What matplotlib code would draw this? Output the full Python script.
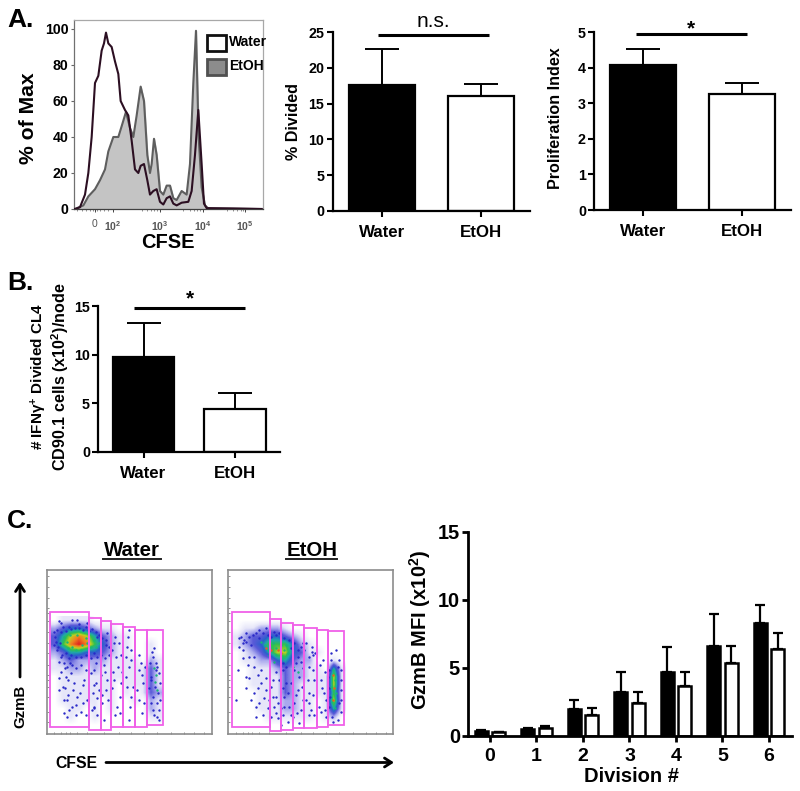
import numpy as np
import matplotlib
matplotlib.use('Agg')
import matplotlib.pyplot as plt
from matplotlib.colors import LinearSegmentedColormap
from matplotlib.patches import Rectangle

plt.rcParams['font.family'] = ['Liberation Sans', 'DejaVu Sans']
plt.rcParams['font.weight'] = 'bold'
plt.rcParams['mathtext.fontset'] = 'custom'
plt.rcParams['mathtext.rm'] = 'Liberation Sans:bold'
plt.rcParams['mathtext.sf'] = 'Liberation Sans'
plt.rcParams['mathtext.default'] = 'rm'

W, H = 800, 791

# histogram, x in CFSE display channels
water_x = [222, 225, 240, 255, 265, 275, 285, 295, 305, 312, 318, 325, 335, 345, 355, 362, 375, 385, 395, 405,
           415, 422, 432, 442, 450, 460, 470, 480, 490, 500, 510, 520, 530, 545, 565, 575, 585, 595, 605, 612,
           620, 700, 785]
water_y = [0, 0, 1, 8, 20, 40, 70, 74, 88, 92, 98, 92, 90, 82, 75, 60, 55, 52, 38, 22,
           20, 24, 25, 16, 8, 10, 11, 4, 2.5, 6, 7, 3, 2, 3.5, 4, 10, 30, 55, 25, 3,
           0.5, 0.3, 0]
etoh_x = [222, 225, 250, 265, 285, 300, 315, 325, 340, 355, 365, 378, 390, 400, 410, 422, 432, 442, 450, 455,
          462, 470, 480, 490, 500, 510, 520, 530, 545, 560, 570, 580, 588, 596, 605, 615, 625, 785]
etoh_y = [0, 0, 2, 7, 11, 16, 22, 32, 40, 40, 46, 54, 45, 40, 52, 68, 60, 30, 20, 25,
          39, 30, 10, 8, 13, 13, 6, 5, 10, 8, 25, 70, 99, 40, 12, 2, 0.3, 0]
hist_yticks = [0, 20, 40, 60, 80, 100]
hist_xticks = [285, 339, 480, 608, 735]
hist_xlabels = ['0', r'$\mathsf{10^{2}}$', r'$\mathsf{10^{3}}$', r'$\mathsf{10^{4}}$', r'$\mathsf{10^{5}}$']
hist_xminor = [232, 245, 258, 270, 278, 292, 300, 312, 325, 425, 440, 452, 462, 470, 550, 570, 582, 592, 600,
               680, 700, 712, 722, 730]

groups = ['Water', 'EtOH']
divided = [17.6, 16.0]
divided_top = [22.6, 17.7]
prolif = [4.07, 3.27]
prolif_top = [4.52, 3.57]
ifng = [9.7, 4.35]
ifng_top = [13.3, 6.05]

divisions = [0, 1, 2, 3, 4, 5, 6]
gzmb_water = [0.35, 0.5, 1.95, 3.25, 4.7, 6.6, 8.3]
gzmb_water_top = [0.4, 0.6, 2.6, 4.65, 6.5, 8.95, 9.6]
gzmb_etoh = [0.25, 0.55, 1.5, 2.4, 3.65, 5.35, 6.4]
gzmb_etoh_top = [0.3, 0.75, 2.05, 3.2, 4.7, 6.6, 7.55]

# flow plots: gates and a coarse density
water_gate_x = [(17, 134), (134, 170), (170, 202), (202, 238), (238, 274), (274, 308), (308, 356)]
water_gate_y = [(37, 382), (55, 390), (64, 390), (71, 382), (82, 382), (91, 380), (91, 376)]
etoh_gate_x = [(17, 132), (132, 165), (165, 200), (200, 235), (235, 272), (272, 305), (305, 353)]
etoh_gate_y = [(37, 382), (58, 392), (68, 390), (74, 385), (84, 385), (91, 381), (94, 376)]

density_water = [
    [0, 1, 1, 1, 1, 0, 0, 0, 0, 0, 0, 0, 0, 0],
    [2, 3, 4, 4, 3, 2, 1, 1, 0, 0, 0, 0, 0, 0],
    [3, 5, 7, 8, 7, 5, 3, 2, 1, 1, 0, 0, 0, 0],
    [3, 6, 8, 9, 8, 6, 4, 2, 1, 1, 0, 0, 1, 0],
    [2, 3, 5, 5, 4, 4, 3, 2, 1, 1, 0, 0, 1, 0],
    [1, 2, 3, 2, 2, 2, 2, 1, 1, 1, 1, 0, 2, 1],
    [1, 1, 2, 2, 1, 2, 1, 1, 1, 1, 1, 1, 3, 1],
    [0, 1, 1, 1, 1, 1, 1, 1, 1, 1, 1, 1, 3, 1],
    [0, 1, 1, 1, 1, 1, 1, 1, 0, 1, 1, 1, 3, 1],
    [0, 1, 1, 1, 1, 1, 1, 1, 0, 1, 0, 1, 3, 2],
    [0, 1, 1, 1, 1, 1, 0, 1, 0, 0, 1, 0, 2, 1],
    [0, 0, 1, 1, 0, 1, 0, 1, 0, 0, 0, 0, 2, 1],
    [0, 0, 1, 0, 0, 1, 0, 0, 0, 0, 0, 0, 1, 1],
    [0, 0, 0, 0, 0, 0, 0, 0, 0, 0, 0, 0, 0, 0],
]
density_etoh = [
    [0, 0, 0, 0, 0, 0, 0, 0, 0, 0, 0, 0, 0, 0],
    [0, 1, 1, 2, 2, 2, 1, 0, 0, 0, 0, 0, 0, 0],
    [1, 2, 3, 3, 4, 4, 3, 2, 1, 0, 0, 0, 0, 0],
    [1, 2, 3, 4, 6, 6, 6, 4, 2, 1, 0, 0, 0, 0],
    [0, 1, 2, 3, 5, 7, 7, 4, 3, 1, 1, 0, 0, 0],
    [0, 1, 1, 2, 2, 4, 5, 3, 2, 2, 0, 0, 1, 0],
    [0, 0, 1, 1, 1, 2, 3, 2, 2, 1, 1, 0, 5, 1],
    [0, 0, 1, 1, 1, 1, 3, 2, 2, 1, 1, 1, 7, 1],
    [0, 0, 1, 1, 1, 1, 3, 2, 1, 1, 1, 1, 7, 1],
    [0, 0, 0, 1, 1, 1, 3, 2, 1, 1, 1, 1, 6, 1],
    [0, 0, 0, 1, 1, 1, 2, 2, 1, 1, 0, 1, 7, 1],
    [0, 0, 0, 1, 1, 1, 2, 2, 1, 1, 0, 1, 5, 1],
    [0, 0, 0, 0, 1, 1, 1, 1, 1, 1, 0, 1, 2, 0],
    [0, 0, 0, 0, 0, 0, 0, 0, 0, 0, 0, 0, 0, 0],
]
dots_water = [(45, 62), (52, 70), (40, 150), (60, 190), (33, 110), (100, 60), (104, 72), (75, 175), (70, 200),
              (85, 195), (50, 215), (65, 230), (90, 250), (120, 240), (44, 235), (56, 260), (72, 285), (88, 270),
              (108, 280), (130, 300), (60, 300), (75, 330), (95, 315), (110, 335), (125, 345), (70, 350), (85, 320),
              (100, 290), (70, 300), (118, 255), (62, 265), (72, 240), (80, 220), (150, 210), (155, 250), (160, 295),
              (145, 330), (150, 320), (180, 195), (186, 270), (175, 310), (190, 240), (215, 170), (222, 200),
              (210, 240), (228, 290), (218, 320), (255, 90), (250, 140), (262, 180), (245, 230), (268, 260),
              (258, 320), (290, 190), (285, 210), (296, 250), (280, 270), (300, 310), (330, 145), (326, 170),
              (335, 190), (340, 200), (322, 230), (333, 260), (328, 290), (338, 310), (345, 330), (330, 345),
              (342, 280), (320, 240), (336, 210), (344, 360), (150, 325), (180, 360), (185, 120), (210, 130),
              (160, 110), (190, 100), (40, 90), (48, 128), (30, 135), (55, 165), (130, 70), (85, 60),
              (30, 95), (36, 125), (42, 140), (50, 95), (58, 82), (66, 92), (74, 80), (82, 88), (92, 84), (104, 85),
              (116, 90), (126, 82), (136, 92), (144, 86), (155, 95), (165, 105), (175, 115), (185, 135), (195, 140),
              (150, 160), (160, 170), (170, 165), (140, 175), (125, 165), (110, 172), (95, 170), (80, 165), (65, 160),
              (50, 170), (45, 185), (62, 205), (78, 190), (95, 205), (110, 195), (125, 210), (140, 220), (155, 190),
              (170, 225), (182, 175), (195, 165), (205, 150), (212, 110), (225, 130), (232, 165), (208, 215),
              (235, 215), (205, 265), (232, 250), (212, 345), (228, 340), (252, 110), (262, 150), (245, 170),
              (256, 200), (248, 260), (262, 290), (255, 360), (285, 165), (295, 225), (302, 200), (285, 300),
              (295, 340), (325, 155), (318, 190), (345, 220), (348, 250), (316, 265), (347, 300), (320, 310),
              (340, 350), (328, 330), (150, 255), (148, 280), (160, 345), (165, 270), (175, 285), (182, 215),
              (192, 300), (60, 340), (45, 270), (95, 345), (118, 310)]
green_water = [(60, 110), (70, 125), (78, 105), (85, 140), (100, 105), (115, 135), (125, 115), (130, 130), (140, 140),
               (150, 120), (155, 140), (165, 130), (72, 145), (95, 150), (110, 150), (330, 205), (335, 225),
               (332, 245), (338, 270)]
dots_etoh = [(45, 110), (55, 120), (35, 210), (40, 115), (60, 100), (80, 105), (100, 90), (120, 85), (145, 95),
             (50, 150), (70, 170), (85, 200), (95, 225), (60, 230), (105, 250), (120, 270), (85, 280), (100, 310),
             (125, 325), (75, 300), (110, 345), (90, 350), (30, 300), (60, 265), (140, 240), (150, 290), (145, 320),
             (155, 355), (135, 350), (170, 210), (180, 250), (175, 290), (190, 320), (170, 345), (185, 365),
             (165, 375), (210, 190), (220, 230), (215, 270), (205, 310), (225, 330), (230, 130), (215, 150),
             (258, 155), (248, 200), (265, 240), (250, 280), (255, 330), (240, 300), (268, 160), (290, 180),
             (285, 240), (295, 280), (280, 320), (300, 350), (315, 160), (330, 150), (335, 200), (345, 240),
             (312, 290), (340, 310), (318, 350), (335, 360), (305, 230),
             (50, 130), (60, 125), (70, 110), (75, 135), (90, 100), (100, 115), (110, 100), (125, 105), (135, 110),
             (150, 105), (160, 100), (175, 115), (190, 120), (205, 130), (225, 140), (235, 150), (195, 145),
             (215, 170), (225, 185), (205, 210), (232, 205), (170, 190), (180, 200), (150, 215), (160, 240),
             (170, 265), (185, 280), (195, 250), (195, 345), (175, 320), (200, 350), (165, 325), (150, 340),
             (155, 310), (140, 290), (135, 260), (120, 235), (105, 210), (85, 170), (65, 195), (50, 175), (40, 140),
             (95, 265), (70, 235), (115, 295), (90, 320), (130, 300), (210, 285), (228, 260), (212, 340), (220, 370),
             (230, 300), (250, 170), (262, 165), (260, 210), (245, 240), (262, 285), (248, 310), (265, 345),
             (282, 195), (298, 215), (288, 265), (300, 300), (285, 335), (298, 330), (315, 180), (340, 180),
             (345, 210), (310, 210), (345, 270), (310, 265), (345, 300), (310, 320), (345, 335), (320, 365),
             (258, 140), (240, 130), (248, 345)]
green_etoh = [(105, 125), (118, 135), (125, 150), (140, 130), (150, 145), (165, 135), (175, 150), (185, 160),
              (150, 165), (130, 165), (170, 175), (200, 200), (215, 215), (145, 185), (320, 210), (328, 240),
              (316, 260), (330, 280), (318, 305), (326, 325), (180, 135)]
red_etoh = [(135, 150), (155, 150), (165, 160), (322, 225), (325, 265), (322, 300), (120, 145)]

flow_cmap = LinearSegmentedColormap.from_list('flow', [
    (0, '#ffffff'), (1 / 9, '#e6e6f9'), (2 / 9, '#a8a8ee'), (3 / 9, '#5a5ad8'), (4 / 9, '#2a60cc'),
    (5 / 9, '#20a8a8'), (6 / 9, '#30c050'), (7 / 9, '#c0d020'), (8 / 9, '#f08020'), (1, '#e02020')])
flow_ticks_y = [-72, -40, -5, 25, 40, 62, 95, 130, 160, 195, 225, 240, 262, 290, 335, 365]
flow_ticks_x = [30, 50, 65, 78, 100, 130, 180, 225, 260, 300, 340, 380, 420, 450, 480]


def axes_px(left, top, right, bottom):
    return fig.add_axes([left / W, 1 - bottom / H, (right - left) / W, (bottom - top) / H])


def bar_panel(box, centers, vals, tops, ymax, yticks, sig_span, sig_val, sig_text, text_val, sig_size):
    left, top, right, bottom = box
    ax = axes_px(left, top, right, bottom)
    step = centers[1] - centers[0]
    ax.set_xlim((left - centers[0]) / step, (right - centers[0]) / step)
    ax.set_ylim(0, ymax)
    pos = [0, 1]
    ax.errorbar(pos, vals, yerr=[[0, 0], np.array(tops) - np.array(vals)], fmt='none', ecolor='black',
                elinewidth=1.4, capsize=12, capthick=1.4, zorder=1)
    ax.bar(pos, vals, width=0.67, color=['black', 'white'], edgecolor='black', linewidth=1.6, zorder=2)
    ax.set_xticks(pos)
    ax.set_xticklabels(groups, fontsize=12.2)
    ax.set_yticks(yticks)
    ax.tick_params(axis='y', labelsize=10.3, width=1.5, length=4, pad=2)
    ax.tick_params(axis='x', width=1.5, length=4, pad=6)
    for s in ['top', 'right']:
        ax.spines[s].set_visible(False)
    for s in ['left', 'bottom']:
        ax.spines[s].set_linewidth(1.6)
    ax.plot(sig_span, [sig_val, sig_val], color='black', lw=2.2, clip_on=False, solid_capstyle='butt')
    ax.text(np.mean(sig_span), text_val, sig_text, ha='center', va='center', fontsize=sig_size,
            fontweight='normal' if sig_text == 'n.s.' else 'bold', clip_on=False)
    return ax


def flow_panel(left, right, x0, x1, density, dots, green, red, gate_x, gate_y):
    ax = axes_px(left, 570, right, 734)
    ax.imshow(density, cmap=flow_cmap, vmin=0, vmax=9, extent=[20, 356, 386, 50], aspect='auto',
              interpolation='bilinear', zorder=1)
    ax.set_xlim(x0, x1)
    ax.set_ylim(402, -90)
    for pts, col in [(dots, '#2a2ac8'), (green, '#18b878'), (red, '#e86020')]:
        if pts:
            pts = np.array(pts)
            ax.scatter(pts[:, 0], pts[:, 1], s=3, color=col, linewidths=0, zorder=2)
    for (a, b), (c, d) in zip(gate_x, gate_y):
        ax.add_patch(Rectangle((a, c), b - a, d - c, fill=False, edgecolor='#f060e8', lw=1.3, zorder=3))
    ax.set_xticks(flow_ticks_x)
    ax.set_yticks(flow_ticks_y)
    ax.tick_params(length=1.5, width=0.5, color='#666666', labelleft=False, labelbottom=False, direction='in')
    for s in ax.spines.values():
        s.set_color('#8c8c8c')
        s.set_linewidth(1.2)


fig = plt.figure(figsize=(8, 7.91), dpi=100)
over = fig.add_axes([0, 0, 1, 1], zorder=10)
over.set_xlim(0, W)
over.set_ylim(H, 0)
over.axis('off')

for letter, y in [('A.', 20), ('B.', 283), ('C.', 521)]:
    over.text(7, y, letter, fontsize=19, ha='left', va='center')

# A: histogram
ax = axes_px(74, 20, 263.3, 209)
ax.set_xlim(222, 790)
ax.set_ylim(0, 105)
ax.fill_between(etoh_x, etoh_y, color='#c4c4c4', zorder=1)
ax.plot(etoh_x, etoh_y, color='#5e5e5e', lw=1.5, zorder=2)
ax.plot(water_x, water_y, color='#2c0f22', lw=1.5, zorder=3)
ax.set_yticks(hist_yticks)
ax.set_xticks(hist_xticks)
ax.set_xticklabels(hist_xlabels, fontsize=7.5, color='#555555', fontweight='normal')
ax.set_xticks(hist_xminor, minor=True)
ax.tick_params(axis='y', labelsize=10.2, length=2, width=0.8, color='#666666', pad=2)
ax.tick_params(axis='x', which='major', length=2.5, width=0.7, color='#444444', pad=5)
ax.tick_params(axis='x', which='minor', length=1.5, width=0.5, color='#666666')
for s in ax.spines.values():
    s.set_color('#a8a8a8')
    s.set_linewidth(0.9)
ax.spines['left'].set_color('#707070')
ax.spines['bottom'].set_color('#404040')
over.add_patch(Rectangle((207, 35), 19, 16, facecolor='white', edgecolor='#101010', lw=2))
over.add_patch(Rectangle((207, 59), 19, 16, facecolor='#8c8c8c', edgecolor='#505050', lw=2))
over.text(229, 42.5, 'Water', fontsize=10, va='center')
over.text(229, 66, 'EtOH', fontsize=10, va='center')
over.text(29, 118, '% of Max', rotation=90, fontsize=15.2, ha='center', va='center')
over.text(168, 243, 'CFSE', fontsize=14.4, ha='center', va='center')

bar_panel((332.7, 32, 530, 211), [382, 481], divided, divided_top, 25, [0, 5, 10, 15, 20, 25],
          [-0.04, 1.08], 24.6, 'n.s.', 26.4, 15)
over.text(293, 121, '% Divided', rotation=90, fontsize=11.6, ha='center', va='center')
bar_panel((594.3, 32, 790.7, 210), [643.2, 741.7], prolif, prolif_top, 5, [0, 1, 2, 3, 4, 5],
          [-0.07, 1.05], 4.93, '*', 5.1, 15)
over.text(555, 118, 'Proliferation Index', rotation=90, fontsize=11.6, ha='center', va='center')

# B
bar_panel((98.3, 306, 280, 451.7), [143.5, 235], ifng, ifng_top, 15, [0, 5, 10, 15],
          [-0.1, 1.11], 14.75, '*', 15.7, 15)
over.text(38.5, 377, '# IFN\u03b3$^{+}$ Divided CL4', rotation=90, fontsize=11, ha='center', va='center')
over.text(60, 377, 'CD90.1 cells (x10$^{2}$)/node', rotation=90, fontsize=11.6, ha='center', va='center')

# C: flow plots
flow_panel(46.7, 212, 8, 504, density_water, dots_water, green_water, [], water_gate_x, water_gate_y)
flow_panel(228.3, 392.7, 7, 500, density_etoh, dots_etoh, green_etoh, red_etoh, etoh_gate_x, etoh_gate_y)
over.text(131.7, 550, 'Water', fontsize=14.7, ha='center', va='center')
over.plot([103, 161], [559, 559], color='#222222', lw=1.4)
over.text(311.7, 550, 'EtOH', fontsize=14.7, ha='center', va='center')
over.plot([286, 337], [559, 559], color='#222222', lw=1.4)
over.text(20, 706, 'GzmB', rotation=90, fontsize=10.8, ha='center', va='center')
over.text(76, 763, 'CFSE', fontsize=11.3, ha='center', va='center')
over.annotate('', xy=(20, 582), xytext=(20, 677),
              arrowprops=dict(arrowstyle='->,head_width=0.32,head_length=0.5', lw=2, color='black', shrinkA=0, shrinkB=0))
over.annotate('', xy=(394, 762.5), xytext=(106, 762.5),
              arrowprops=dict(arrowstyle='->,head_width=0.32,head_length=0.5', lw=2, color='black', shrinkA=0, shrinkB=0))

# C: GzmB MFI
ax = axes_px(468.3, 531.7, 791.7, 735.7)
ax.set_xlim((468.3 - 490) / 46.5, (791.7 - 490) / 46.5)
ax.set_ylim(0, 15)
pos = np.array(divisions)
for off, vals, tops, col in [(-0.186, gzmb_water, gzmb_water_top, 'black'), (0.186, gzmb_etoh, gzmb_etoh_top, 'white')]:
    ax.errorbar(pos + off, vals, yerr=[np.zeros(7), np.array(tops) - np.array(vals)], fmt='none', ecolor='black',
                elinewidth=1.6, capsize=3.4, capthick=1.6, zorder=1)
    ax.bar(pos + off, vals, width=0.28, color=col, edgecolor='black', linewidth=1.8, zorder=2)
ax.set_xticks(pos)
ax.set_yticks([0, 5, 10, 15])
ax.tick_params(axis='y', labelsize=14.4, width=2, length=4, pad=2)
ax.tick_params(axis='x', labelsize=14, width=2, length=4, pad=5)
for s in ['top', 'right']:
    ax.spines[s].set_visible(False)
for s in ['left', 'bottom']:
    ax.spines[s].set_linewidth(2)
over.text(631, 777, 'Division #', fontsize=14.5, ha='center', va='center')
over.text(420, 630, 'GzmB MFI (x10$^{2}$)', rotation=90, fontsize=14.5, ha='center', va='center')

fig.savefig('out.png', dpi=100)
